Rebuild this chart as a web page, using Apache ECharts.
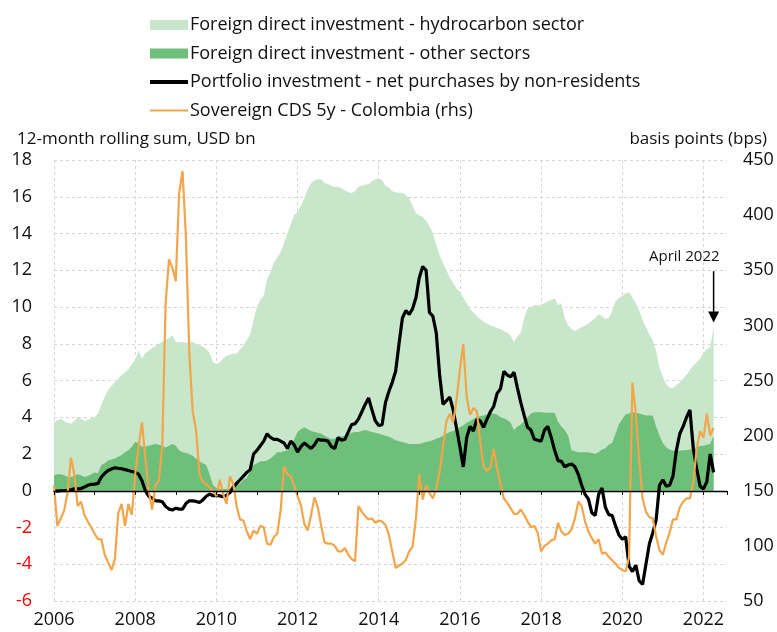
<!DOCTYPE html>
<html>
<head>
<meta charset="utf-8">
<script src="https://cdn.jsdelivr.net/npm/echarts@6/dist/echarts.min.js"></script>
<style>
  html, body { margin: 0; padding: 0; background: #fff; }
  #main { width: 777px; height: 632px; }
</style>
</head>
<body>
<div id="main"></div>
<script>
// monthly data, Jan 2006 .. Apr 2022
const startYear = 2006;
const monthCount = 196;
const months = [];
for (let i = 0; i < monthCount; i++) months.push(startYear + i / 12);

const xTickLabels = ['2006', '2008', '2010', '2012', '2014', '2016', '2018', '2020', '2022'];

// USD bn, 12-month rolling sum
const fdiHydro = [
  2.85, 2.95, 3.0, 2.95, 2.95, 2.9, 3.0, 3.1, 3.05, 3.05, 3.05, 3.05,
  3.0, 3.25, 3.3, 3.6, 3.85, 4.0, 4.15, 4.25, 4.35, 4.35, 4.4, 4.5,
  4.45, 5.0, 4.8, 5.1, 5.15, 5.25, 5.35, 5.5, 5.65, 5.85, 5.85, 5.9,
  5.65, 5.9, 6.0, 6.0, 6.1, 6.2, 6.25, 6.3, 6.35, 6.3, 6.6, 6.7,
  6.75, 6.9, 7.1, 7.25, 7.3, 7.3, 7.15, 7.3, 7.3, 7.5, 7.4, 7.9,
  8.5, 8.8, 9.0, 9.85, 10.15, 10.5, 10.6, 10.9, 11.35, 11.8, 12.1, 12.2,
  12.0, 12.15, 12.45, 13.05, 13.5, 13.7, 13.8, 13.85, 13.75, 13.8, 13.8, 13.7,
  13.65, 13.5, 13.35, 13.2, 13.05, 13.1, 13.35, 13.35, 13.35, 13.45, 13.65, 13.8,
  13.9, 13.85, 13.6, 13.55, 13.45, 13.5, 13.5, 13.55, 13.5, 13.35, 12.95, 12.55,
  12.45, 12.3, 12.05, 11.7, 11.25, 10.55, 9.9, 9.4, 8.9, 8.4, 8.05, 7.65,
  7.35, 6.95, 6.5, 6.1, 5.8, 5.5, 5.3, 5.1, 4.95, 4.8, 4.75, 4.7,
  4.8, 4.75, 4.75, 4.75, 4.8, 4.9, 5.0, 5.6, 5.9, 5.8, 5.83, 5.83,
  5.83, 5.95, 6.05, 6.15, 6.2, 6.35, 6.7, 6.1, 6.0, 6.6, 6.55, 6.7,
  6.8, 6.9, 7.0, 7.2, 7.4, 7.5, 7.25, 7.05, 6.9, 7.2, 7.2, 6.9,
  6.7, 6.6, 6.6, 6.23, 5.95, 5.6, 5.15, 4.8, 4.4, 4.1, 4.1, 3.7,
  3.6, 3.45, 3.35, 3.42, 3.57, 3.72, 3.9, 4.1, 4.35, 4.5, 4.65, 4.75,
  5.05, 5.2, 5.25, 5.9
];

const fdiOther = [
  0.85, 0.9, 0.9, 0.85, 0.75, 0.75, 0.8, 0.9, 0.85, 0.75, 0.8, 0.9,
  1.0, 0.95, 1.4, 1.5, 1.65, 1.7, 1.75, 1.85, 1.95, 2.1, 2.2, 2.4,
  2.65, 2.6, 2.4, 2.4, 2.45, 2.5, 2.55, 2.5, 2.45, 2.35, 2.45, 2.55,
  2.45, 2.2, 2.1, 2.05, 2.0, 1.9, 1.75, 1.6, 1.5, 1.4, 0.9, 0.3,
  0.15, 0.1, 0.1, 0.1, 0.1, 0.15, 0.3, 0.4, 0.6, 0.7, 1.1, 1.4,
  1.5, 1.6, 1.6, 1.65, 1.75, 1.9, 2.1, 2.1, 2.15, 2.2, 2.4, 2.8,
  3.2, 3.35, 3.45, 3.35, 3.25, 3.2, 3.15, 3.1, 3.0, 2.9, 2.8, 2.85,
  2.9, 2.95, 3.0, 3.05, 3.15, 3.2, 3.2, 3.25, 3.3, 3.25, 3.2, 3.15,
  3.1, 3.05, 3.0, 2.95, 2.85, 2.75, 2.7, 2.65, 2.6, 2.55, 2.55, 2.55,
  2.55, 2.6, 2.65, 2.7, 2.75, 2.85, 2.9, 3.0, 3.1, 3.2, 3.25, 3.35,
  3.45, 3.55, 3.7, 3.8, 3.9, 4.0, 4.05, 4.1, 4.15, 4.2, 4.2, 4.15,
  4.0, 3.95, 3.85, 3.7, 3.3, 3.5, 3.6, 3.8, 4.0, 4.2, 4.27, 4.27,
  4.27, 4.25, 4.25, 4.25, 4.25, 3.75, 3.5, 3.3, 3.0, 2.2, 2.15, 2.1,
  2.1, 2.1, 2.1, 2.05, 2.0, 2.1, 2.25, 2.3, 2.5, 2.6, 3.1, 3.6,
  3.9, 4.15, 4.2, 4.27, 4.25, 4.2, 4.15, 4.1, 4.1, 4.1, 3.5, 3.0,
  2.6, 2.35, 2.25, 2.18, 2.18, 2.18, 2.2, 2.2, 2.25, 2.3, 2.35, 2.45,
  2.45, 2.5, 2.55, 3.0
];

const portfolio = [
  0, -0.02, 0, 0, 0.02, 0.05, 0.1, 0.1, 0.12, 0.2, 0.3, 0.35,
  0.36, 0.4, 0.75, 0.95, 1.1, 1.18, 1.25, 1.22, 1.2, 1.15, 1.1, 1.05,
  1.0, 0.9, 0.55, 0.0, -0.3, -0.4, -0.55, -0.55, -0.6, -0.85, -1.0, -1.05,
  -0.95, -1.0, -1.0, -0.7, -0.55, -0.55, -0.58, -0.64, -0.5, -0.3, -0.18, -0.27,
  -0.25, -0.28, -0.32, -0.25, -0.1, 0.2, 0.4, 0.6, 0.8, 1.0, 1.15, 2.0,
  2.2, 2.45, 2.7, 3.1, 2.9, 2.8, 2.8, 2.7, 2.6, 2.3, 2.7, 2.5,
  2.1, 2.4, 2.6, 2.45, 2.3, 2.5, 2.8, 2.75, 2.75, 2.7, 2.4, 2.3,
  2.9, 2.75, 2.8, 3.2, 3.6, 3.65, 3.9, 4.3, 4.7, 5.05, 4.4, 3.8,
  3.55, 3.6, 4.8, 5.4, 5.9, 6.5, 8.0, 9.4, 9.8, 9.6, 9.9, 10.5,
  11.6, 12.2, 12.0, 9.7, 9.5, 8.6, 6.3, 4.7, 4.9, 5.1, 4.4, 3.4,
  2.4, 1.3, 2.9, 3.5, 3.25, 3.9, 3.8, 3.45, 3.9, 4.3, 4.6, 5.3,
  5.55, 6.5, 6.3, 6.2, 6.45, 5.6, 4.8, 4.1, 3.45, 3.3, 2.8, 2.75,
  2.7, 3.3, 3.5, 2.9, 2.2, 1.64, 1.6, 1.3, 1.4, 1.45, 1.3, 0.9,
  0.3, -0.2, -0.45, -1.2, -1.35, -0.2, 0.15, -0.9, -1.3, -1.35, -1.9, -2.4,
  -2.64, -2.5, -4.1, -4.4, -4.05, -4.9, -5.1, -4.0, -2.9, -2.3, -1.6, 0.3,
  0.6, 0.25, 0.3, 0.8, 2.2, 3.1, 3.5, 4.0, 4.4, 2.3, 1.2, 0.25,
  0.1, 0.5, 2.0, 1.0
];

// basis points
const cds = [
  155, 118, 125, 132, 148, 180, 165, 136, 140, 128, 122, 117,
  111, 106, 106, 92, 85, 78, 88, 130, 138, 118, 138, 128,
  165, 190, 212, 180, 150, 133, 155, 159, 190, 320, 360, 352,
  340, 420, 440, 380, 275, 222, 205, 165, 158, 156, 153, 150,
  145, 160, 147, 138, 163, 156, 136, 124, 123, 113, 106, 114,
  111, 118, 117, 102, 101, 108, 111, 132, 172, 165, 163, 155,
  145, 137, 120, 114, 128, 144, 135, 118, 103, 102, 102, 100,
  95, 95, 98, 92, 88, 86, 136, 131, 127, 124, 125, 121,
  123, 122, 119, 110, 95, 80, 82, 84, 87, 95, 99, 125,
  165, 142, 155, 148, 143, 152, 167, 190, 213, 220, 212, 232,
  260, 283, 235, 219, 225, 222, 195, 172, 168, 171, 188, 170,
  156, 143, 139, 134, 129, 129, 133, 128, 122, 117, 118, 112,
  95, 100, 102, 105, 106, 121, 113, 110, 111, 115, 125, 140,
  136, 122, 113, 107, 102, 106, 93, 94, 90, 87, 84, 80,
  78, 77, 90, 248, 220, 178, 143, 131, 126, 125, 109, 96,
  92, 103, 112, 124, 124, 135, 140, 143, 143, 158, 188, 204,
  198, 220, 200, 207
];

const NAMES = {
  hydro: 'Foreign direct investment - hydrocarbon sector',
  other: 'Foreign direct investment - other sectors',
  port: 'Portfolio investment - net purchases by non-residents',
  cds: 'Sovereign CDS 5y - Colombia (rhs)'
};
const FONT = '"Open Sans", "Noto Sans", sans-serif';
const pair = arr => arr.map((v, i) => [months[i], v]);
// hydrocarbon band sits on top of the other-sectors band
const hydroTop = fdiHydro.map((v, i) => [months[i], +(v + fdiOther[i]).toFixed(2)]);

const chart = echarts.init(document.getElementById('main'));
chart.setOption({
  animation: false,
  backgroundColor: '#fff',
  textStyle: { fontFamily: FONT },
  title: [
    { text: '12-month rolling sum, USD bn', left: 12, top: 126,
      textStyle: { fontSize: 17, fontWeight: 'normal', color: '#111', fontFamily: FONT } },
    { text: 'basis points (bps)', right: 5, top: 126,
      textStyle: { fontSize: 17, fontWeight: 'normal', color: '#111', fontFamily: FONT } }
  ],
  legend: {
    orient: 'vertical',
    left: 145,
    top: 11,
    itemWidth: 38,
    itemHeight: 10,
    itemGap: 10.5,
    textStyle: { fontSize: 18, color: '#111', fontFamily: FONT, padding: [0, 0, 0, -3] },
    data: [
      { name: NAMES.hydro, icon: 'rect' },
      { name: NAMES.other, icon: 'rect' },
      { name: NAMES.port, icon: 'path://M0,0H38V4H0Z', itemStyle: { color: '#000' } },
      { name: NAMES.cds, icon: 'path://M0,0H38V2H0Z', itemStyle: { color: '#f2a54a' } }
    ]
  },
  grid: { left: 54, right: 50, top: 160, bottom: 31 },
  xAxis: [
    {
      type: 'value', min: 2006, max: 2022.58, interval: 2,
      axisLine: { show: false }, axisTick: { show: false },
      axisLabel: {
        fontSize: 18, color: '#111', margin: 10,
        formatter: v => xTickLabels.indexOf(String(v)) >= 0 ? String(v) : ''
      },
      splitLine: { show: true, showMaxLine: false, lineStyle: { color: '#d6d6d6', type: [3, 3] } }
    },
    {
      type: 'value', min: 2006, max: 2022.58, interval: 1,
      position: 'bottom', offset: -110, z: 10,
      axisLine: { show: true, lineStyle: { color: '#000', width: 1.3 } },
      axisTick: { show: true, length: 4, lineStyle: { color: '#000' } },
      axisLabel: { show: false },
      splitLine: { show: false }
    }
  ],
  yAxis: [
    {
      type: 'value', min: -6, max: 18, interval: 2,
      axisLine: { show: false }, axisTick: { show: false },
      axisLabel: {
        fontSize: 18, margin: 22,
        color: v => Number(v) < 0 ? '#ff0000' : '#111'
      },
      splitLine: { lineStyle: { color: '#d6d6d6', type: [3, 3] } }
    },
    {
      type: 'value', min: 50, max: 450, interval: 50, position: 'right',
      axisLine: { show: false }, axisTick: { show: false },
      axisLabel: { fontSize: 18, color: '#111', margin: 16 },
      splitLine: { show: false }
    }
  ],
  series: [
    {
      name: NAMES.hydro, type: 'line', symbol: 'none', z: 1,
      data: hydroTop,
      lineStyle: { width: 0 }, itemStyle: { color: '#c7e6ca' },
      areaStyle: { color: '#c7e6ca', opacity: 1 }
    },
    {
      name: NAMES.other, type: 'line', symbol: 'none', z: 2,
      data: pair(fdiOther),
      lineStyle: { width: 0 }, itemStyle: { color: '#6dbf79' },
      areaStyle: { color: '#6dbf79', opacity: 1 }
    },
    {
      name: NAMES.port, type: 'line', symbol: 'none', z: 3,
      data: pair(portfolio),
      lineStyle: { color: '#000', width: 3.2 }, itemStyle: { color: '#000' }
    },
    {
      name: NAMES.cds, type: 'line', symbol: 'none', yAxisIndex: 1, z: 4,
      data: pair(cds),
      lineStyle: { color: '#f2a54a', width: 2.2 }, itemStyle: { color: '#f2a54a' }
    }
  ]
});

// "April 2022" annotation, anchored on the last month
const lastX = months[months.length - 1];
const arrowTop = chart.convertToPixel({ xAxisIndex: 0, yAxisIndex: 0 }, [lastX, 11.95]);
const arrowTip = chart.convertToPixel({ xAxisIndex: 0, yAxisIndex: 0 }, [lastX, 9.15]);
chart.setOption({
  graphic: [
    { type: 'line', z: 100,
      shape: { x1: arrowTop[0], y1: arrowTop[1], x2: arrowTip[0], y2: arrowTip[1] - 9 },
      style: { stroke: '#000', lineWidth: 1.5 } },
    { type: 'polygon', z: 100,
      shape: { points: [[arrowTip[0] - 5.5, arrowTip[1] - 11], [arrowTip[0] + 5.5, arrowTip[1] - 11], [arrowTip[0], arrowTip[1]]] },
      style: { fill: '#000' } },
    { type: 'text', z: 100, x: arrowTop[0] + 6, y: arrowTop[1] - 7,
      style: { text: 'April 2022', align: 'right', verticalAlign: 'bottom',
               fontSize: 15, fontFamily: FONT, fill: '#111' } }
  ]
});
</script>
</body>
</html>
